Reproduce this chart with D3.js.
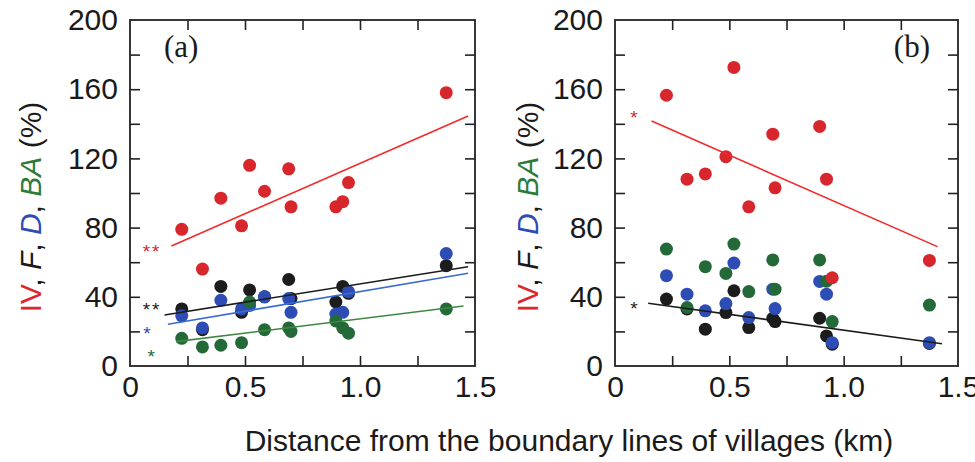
<!DOCTYPE html>
<html>
<head>
<meta charset="utf-8">
<script src="https://cdn.jsdelivr.net/npm/d3@7"></script>
<style>
  body { margin: 0; background: #fff; }
  svg text { font-family: "Liberation Sans", Arial, sans-serif; }
</style>
</head>
<body>
<svg id="chart" width="975" height="462"></svg>
<script>
// distances of the sampling sites (km), shared by both panels
const distance = [0.225, 0.315, 0.395, 0.485, 0.52, 0.585, 0.69, 0.70, 0.895, 0.925, 0.95, 1.375];

// panel (a)
const ivA    = [79, 56, 97, 81, 116, 101, 114, 92, 92, 95, 106, 158];
const fA     = [33, 21, 46, 31, 44, 40, 50, 39, 37, 46, 42, 58];
const dA     = [29, 22, 38, 33, 35, 40, 39, 31, 30, 31, 43, 65];
const baA    = [16, 11, 12, 13.5, 37, 21, 22, 20, 26, 22, 19, 33];

// panel (b)
const ivB    = [156.5, 108, 111, 121, 172.6, 92, 134, 103, 138.5, 108, 51, 61];
const fB     = [38.7, 33, 21.3, 30.9, 43.5, 22.2, 27.6, 25.7, 27.6, 17.4, 12.6, 13];
const dB     = [52.2, 41.5, 31.9, 36.1, 59.5, 28, 44.4, 33.2, 48.9, 41.5, 13.5, 13.5];
const baB    = [67.6, 33.8, 57.4, 53.5, 70.5, 43, 61.3, 44.4, 61.3, 49, 25.7, 35.2];

// regression lines: [x start, x end], [y start, y end]
const fitA = {
  iv: { x: [0.18, 1.47], y: [69.4, 144.5] },
  f:  { x: [0.15, 1.47], y: [29.5, 57.4] },
  d:  { x: [0.165, 1.47], y: [24.1, 53.6] },
  ba: { x: [0.2, 1.45], y: [14.1, 34.7] }
};
const fitB = {
  iv: { x: [0.16, 1.41], y: [141.6, 69] },
  f:  { x: [0.145, 1.43], y: [36.3, 12.9] }
};

// significance marks
const starsA = [
  { key: "iv", text: "**", x: 0.096, y: 68.8 },
  { key: "f",  text: "**", x: 0.096, y: 35 },
  { key: "d",  text: "*",  x: 0.078, y: 21.5 },
  { key: "ba", text: "*",  x: 0.096, y: 8.1 }
];
const starsB = [
  { key: "iv", text: "*", x: 0.087, y: 146 },
  { key: "f",  text: "*", x: 0.087, y: 35.9 }
];

const xTickLabels = [0, 0.5, 1.0, 1.5];
const yTickLabels = [0, 40, 80, 120, 160, 200];

const pointColor = { iv: "#d8262d", f: "#1c1c1c", d: "#2d4cb4", ba: "#246a38" };
const lineColor  = { iv: "#f42a2a", f: "#1c1c1c", d: "#3a6bd0", ba: "#3f8840" };

const svg = d3.select("#chart");

function panel(opts) {
  const x = d3.scaleLinear().domain([0, 1.5]).range(opts.xr);
  const y = d3.scaleLinear().domain([0, 200]).range([366, 20]);
  const g = svg.append("g");

  // inward ticks on all four sides
  const minorX = [0.25, 0.5, 0.75, 1.0, 1.25];
  const yt = d3.range(20, 200, 20);
  g.append("g").attr("transform", `translate(0,${y(0)})`)
    .call(d3.axisBottom(x).tickValues(minorX).tickSize(-10).tickFormat(""));
  g.append("g").attr("transform", `translate(0,${y(200)})`)
    .call(d3.axisTop(x).tickValues(minorX).tickSize(-10).tickFormat(""));
  g.append("g").attr("transform", `translate(${x(0)},0)`)
    .call(d3.axisLeft(y).tickValues(yt).tickSize(-10).tickFormat(""));
  g.append("g").attr("transform", `translate(${x(1.5)},0)`)
    .call(d3.axisRight(y).tickValues(yt).tickSize(-10).tickFormat(""));
  g.selectAll(".domain").remove();
  g.selectAll(".tick line").attr("stroke", "#222").attr("stroke-width", 1.6);

  // labels
  const xl = g.append("g").attr("transform", `translate(0,${y(0)})`)
    .call(d3.axisBottom(x).tickValues(xTickLabels).tickSize(0).tickPadding(7)
      .tickFormat(d => d === 0 ? "0" : d3.format(".1f")(d)));
  const yl = g.append("g").attr("transform", `translate(${x(0)},0)`)
    .call(d3.axisLeft(y).tickValues(yTickLabels).tickSize(0).tickPadding(12));
  [xl, yl].forEach(a => {
    a.select(".domain").remove();
    a.selectAll("text").attr("font-size", 30).attr("fill", "#1a1a1a")
      .style("font-family", '"Liberation Sans", Arial, sans-serif');
  });
  xl.selectAll("text").attr("dy", "0.8em");

  // frame
  g.append("rect")
    .attr("x", x(0)).attr("y", y(200))
    .attr("width", x(1.5) - x(0)).attr("height", y(0) - y(200))
    .attr("fill", "none").attr("stroke", "#222").attr("stroke-width", 1.8);

  // points
  opts.series.forEach(s => {
    g.append("g").selectAll("circle")
      .data(s.values)
      .join("circle")
      .attr("cx", (d, i) => x(distance[i]))
      .attr("cy", d => y(d))
      .attr("r", 6.5)
      .attr("fill", pointColor[s.key]);
  });

  // fitted lines
  const line = d3.line().x(d => x(d[0])).y(d => y(d[1]));
  Object.keys(opts.fit).forEach(k => {
    const f = opts.fit[k];
    g.append("path")
      .datum([[f.x[0], f.y[0]], [f.x[1], f.y[1]]])
      .attr("d", line)
      .attr("fill", "none")
      .attr("stroke", lineColor[k])
      .attr("stroke-width", 1.6);
  });

  // stars
  g.selectAll(".star").data(opts.stars).join("text")
    .attr("class", "star")
    .attr("x", d => x(d.x)).attr("y", d => y(d.y) + 11)
    .attr("text-anchor", "middle")
    .attr("font-size", 19)
    .attr("letter-spacing", 2)
    .attr("fill", d => pointColor[d.key])
    .text(d => d.text);

  // panel tag
  g.append("text")
    .attr("x", opts.tag.x).attr("y", 57)
    .attr("text-anchor", opts.tag.anchor)
    .attr("font-size", 31)
    .style("font-family", '"Liberation Serif", "Times New Roman", serif')
    .attr("fill", "#1a1a1a")
    .text(opts.tag.text);

  // y axis title
  const t = svg.append("text")
    .attr("transform", `translate(${opts.titleX},207) rotate(-90)`)
    .attr("text-anchor", "middle")
    .attr("dy", "0.35em")
    .attr("font-size", 30);
  const parts = [
    ["IV", "#e0252b", "normal"], [", ", "#1a1a1a", "normal"],
    ["F", "#1a1a1a", "italic"], [", ", "#1a1a1a", "normal"],
    ["D", "#2d4cb4", "italic"], [", ", "#1a1a1a", "normal"],
    ["BA", "#2f7a3a", "italic"], [" (%)", "#1a1a1a", "normal"]
  ];
  parts.forEach(p => t.append("tspan").attr("fill", p[1]).attr("font-style", p[2]).text(p[0]));
}

panel({
  xr: [130, 475],
  series: [{ key: "f", values: fA }, { key: "d", values: dA }, { key: "ba", values: baA }, { key: "iv", values: ivA }],
  fit: fitA,
  stars: starsA,
  tag: { text: "(a)", x: 164, anchor: "start" },
  titleX: 30
});

panel({
  xr: [615, 958],
  series: [{ key: "f", values: fB }, { key: "d", values: dB }, { key: "ba", values: baB }, { key: "iv", values: ivB }],
  fit: fitB,
  stars: starsB,
  tag: { text: "(b)", x: 930, anchor: "end" },
  titleX: 527
});

svg.append("text")
  .attr("x", 569).attr("y", 451)
  .attr("text-anchor", "middle")
  .attr("font-size", 30)
  .attr("fill", "#1a1a1a")
  .text("Distance from the boundary lines of villages (km)");
</script>
</body>
</html>
